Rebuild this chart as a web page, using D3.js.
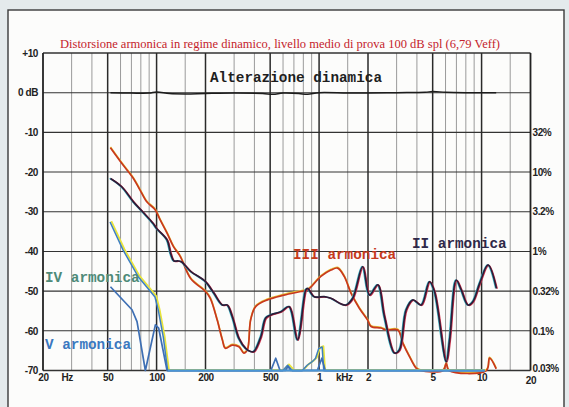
<!DOCTYPE html>
<html>
<head>
<meta charset="utf-8">
<script src="https://cdn.jsdelivr.net/npm/d3@7"></script>
<style>
html,body{margin:0;padding:0;background:#e4eaec;}
svg{display:block;}
</style>
</head>
<body>
<svg id="chart" width="569" height="407"></svg>
<script>
// ---------- DATA ----------
const titleText = "Distorsione armonica in regime dinamico, livello medio di prova 100 dB spl (6,79 Veff)";
const leftTicks = [10, 0, -10, -20, -30, -40, -50, -60, -70];
const leftTickLabels = ["+10", "0 dB", "-10", "-20", "-30", "-40", "-50", "-60", "-70"];
const rightTicks = [-10, -20, -30, -40, -50, -60, -70];
const rightTickLabels = ["32%", "10%", "3.2%", "1%", "0.32%", "0.1%", "0.03%"];
const freqTicks = [20, 28, 50, 100, 200, 500, 1000, 1420, 2000, 5000, 10000, 20000];
const freqTickLabels = ["20", "Hz", "50", "100", "200", "500", "1", "kHz", "2", "5", "10", "20"];
const majorGrid = [50, 100, 200, 500, 1000, 2000, 5000, 10000];
const minorGrid = [30, 40, 60, 70, 80, 90, 150, 300, 400, 600, 700, 800, 900, 1500, 3000, 4000, 6000, 7000, 8000, 9000, 15000];

// Alterazione dinamica [Hz, dB]
const dynAlt = [[52,0],[70,-0.1],[90,-0.1],[100,0.2],[120,-0.2],[150,-0.3],[200,-0.2],[300,-0.1],[450,-0.2],[520,-0.4],[600,-0.1],[750,-0.2],[850,-0.4],[1000,0],[1500,-0.1],[2000,-0.1],[3000,0],[4500,0.1],[5000,0.3],[6000,0.1],[8000,0],[10000,0],[12300,0]];

// II armonica
const h2 = [[52,-21.6],[61,-23.7],[72,-27.5],[82,-30],[95,-32.9],[100,-34.2],[116,-37.1],[122,-40.5],[128,-42.4],[135,-42.4],[142,-42.6],[162,-45],[200,-47.6],[225,-50.5],[254,-53.5],[272,-53.5],[292,-56.4],[321,-61.9],[353,-64.4],[379,-65.2],[397,-65.2],[438,-61.5],[469,-56.8],[503,-56],[581,-55.2],[654,-53.9],[736,-62.3],[828,-49.7],[849,-49.3],[933,-51.4],[1075,-51.4],[1183,-51.8],[1362,-53.2],[1463,-53.5],[1610,-51.8],[1855,-43.8],[2041,-51],[2297,-48.4],[2525,-56.4],[2911,-65.6],[3122,-64.8],[3435,-54.7],[3778,-52.2],[4250,-53.5],[4779,-47.6],[5130,-50.1],[6061,-67.8],[6357,-62.3],[6985,-47.2],[7500,-49.7],[8250,-53.5],[8853,-52.6],[9740,-48],[10960,-43.4],[12340,-49.3]];

// III armonica
const h3 = [[52,-13.9],[61,-17.8],[72,-21.6],[79,-24.5],[87,-27.5],[98,-29.5],[105,-32],[116,-35.4],[127,-38.8],[140,-41.3],[162,-46.8],[200,-50.1],[214,-51.8],[236,-57.3],[254,-62.3],[265,-64.4],[292,-63.6],[321,-64],[344,-65.6],[362,-64.8],[379,-57.3],[407,-53.9],[481,-52.2],[608,-51],[771,-50.1],[849,-49.7],[1026,-46.3],[1183,-44.7],[1301,-44.2],[1428,-46.3],[1571,-50.5],[1768,-54.3],[1990,-57.3],[2088,-58.9],[2405,-59.3],[2581,-59.8],[3050,-59.8],[3275,-63.1],[3600,-66.5],[3955,-69.4],[4200,-70],[5800,-70],[6061,-68.2],[6300,-70],[10700,-70],[11200,-66.9],[12300,-69.6]];

// IV armonica
const h4 = [[52,-32.5],[62.6,-39.6],[77.5,-46.3],[89.3,-49.3],[98.3,-51.4],[103,-54.7],[110.6,-61.5],[117.7,-70],[600,-70],[644,-68.6],[690,-70],[791,-70],[849,-68.6],[912,-67.7],[955,-66.9],[1001,-64.4],[1050,-64],[1075,-70],[10500,-70]];

// V armonica
const h5 = [[52,-48.9],[70.6,-54.7],[75.8,-57.7],[85.3,-70],[98.3,-58.5],[103,-59.3],[116,-70],[505,-70],[541,-66.9],[575,-70],[620,-70],[644,-69],[670,-70],[975,-70],[1040,-66.9],[1090,-70],[10500,-70]];

// ---------- CHART ----------
const svg = d3.select("#chart");
// panel
svg.append("rect").attr("x",8).attr("y",10).attr("width",556).attr("height",400)
  .attr("fill","#fcfcfb").attr("stroke","#3a3a3a").attr("stroke-width",1.4);

const x = d3.scaleLog().domain([20,20000]).range([43,530.5]);
const y = d3.scaleLinear().domain([-70,10]).range([370.5,53]);

const g = svg.append("g");
// minor verticals
g.selectAll(".vmin").data(minorGrid).join("line")
  .attr("x1",d=>x(d)).attr("x2",d=>x(d)).attr("y1",y(10)).attr("y2",y(-70))
  .attr("stroke","#9a9a9a").attr("stroke-width",1);
// horizontals
g.selectAll(".hl").data(leftTicks).join("line")
  .attr("x1",x(20)).attr("x2",x(20000)).attr("y1",d=>y(d)).attr("y2",d=>y(d))
  .attr("stroke","#333").attr("stroke-width",d=>(d===10||d===-70)?1.6:1.1);
// major verticals
g.selectAll(".vmaj").data(majorGrid).join("line")
  .attr("x1",d=>x(d)).attr("x2",d=>x(d)).attr("y1",y(10)).attr("y2",y(-70))
  .attr("stroke","#2a2a2a").attr("stroke-width",1.5);
// borders
g.selectAll(".vb").data([20,20000]).join("line")
  .attr("x1",d=>x(d)).attr("x2",d=>x(d)).attr("y1",y(10)).attr("y2",y(-70))
  .attr("stroke","#222").attr("stroke-width",1.8);

// axes
const fontAx = "'Liberation Sans', Arial, sans-serif";
const la = svg.append("g").attr("transform",`translate(${x(20)-5},0)`)
  .call(d3.axisLeft(y).tickValues(leftTicks).tickSize(0).tickPadding(0)
    .tickFormat((d,i)=>leftTickLabels[i]));
const ra = svg.append("g").attr("transform",`translate(${x(20000)+2},0)`)
  .call(d3.axisRight(y).tickValues(rightTicks).tickSize(0).tickPadding(0)
    .tickFormat((d,i)=>rightTickLabels[i]));
const ba = svg.append("g").attr("transform",`translate(0,${y(-70)+3})`)
  .call(d3.axisBottom(x).tickValues(freqTicks).tickSize(0).tickPadding(0)
    .tickFormat((d,i)=>freqTickLabels[i]));
[la,ra,ba].forEach(a=>{
  a.select(".domain").remove();
  a.selectAll("text").attr("font-family",fontAx).attr("font-size",10)
   .attr("fill","#222").attr("letter-spacing","-0.4px").attr("font-weight","600");
});
ra.selectAll("text").attr("dy","0.32em");
ra.selectAll(".tick").filter(d=>d===-70).select("text").attr("dy","0.1em");
ba.selectAll(".tick").filter(d=>d===20000).select("text").attr("dy","1.0em");

// title
svg.append("text").attr("x",60).attr("y",48).text(titleText)
  .attr("font-family","'Liberation Serif','Times New Roman',serif")
  .attr("font-size",12).attr("fill","#c4232b")
  .attr("textLength",440).attr("lengthAdjust","spacingAndGlyphs");

// lines
const lineSmooth = d3.line().x(d=>x(d[0])).y(d=>y(d[1])).curve(d3.curveCatmullRom.alpha(0.5));
const lineLin = d3.line().x(d=>x(d[0])).y(d=>y(d[1]));

function draw(data, gen, color, w, dx, dy){
  svg.append("path").datum(data).attr("d",gen).attr("fill","none")
    .attr("stroke",color).attr("stroke-width",w).attr("stroke-linejoin","round")
    .attr("transform",`translate(${dx||0},${dy||0})`);
}
// Alterazione dinamica
draw(dynAlt, lineSmooth, "#1c1c1c", 1.5);
// III
draw(h3, lineSmooth, "#e6c23a", 1.6, 0, -0.8);
draw(h3, lineSmooth, "#c8381e", 1.7);
// II
draw(h2, lineSmooth, "#43b8c8", 1.4, -0.8, 0);
draw(h2, lineSmooth, "#d0304a", 1.4, 0.8, 0.4);
draw(h2, lineSmooth, "#2c1d38", 1.7);
// IV
draw(h4, lineLin, "#e8e43a", 1.8, 0.9, -0.6);
draw(h4, lineLin, "#3e7fc0", 1.5, -0.4, 0.3);
// V
draw(h5, lineLin, "#3e6fb4", 1.7);
// floor overlay (blue) for IV/V
draw([[117.7,-70],[10500,-70]], lineLin, "#4a95d6", 1.8);

// labels
const mono = "'Liberation Mono','DejaVu Sans Mono',monospace";
function label(txt, xx, yy, color){
  svg.append("text").attr("x",xx).attr("y",yy).text(txt)
    .attr("font-family",mono).attr("font-size",14).attr("font-weight","bold")
    .attr("fill",color).attr("textLength",txt.length*8.6).attr("lengthAdjust","spacingAndGlyphs");
}
label("Alterazione dinamica", 210, 82, "#1e1e1e");
label("III armonica", 293, 259, "#c63a1c");
label("II armonica", 412, 248, "#2e2848");
label("IV armonica", 45, 282, "#4e8a78");
label("V armonica", 45, 349, "#3a78c0");
</script>
</body>
</html>
